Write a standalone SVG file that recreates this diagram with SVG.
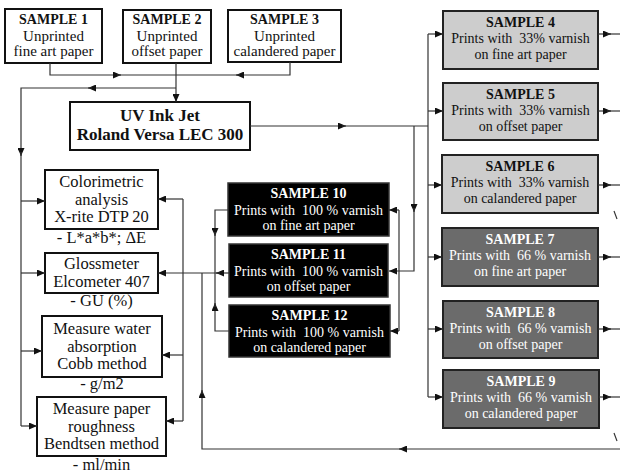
<svg xmlns="http://www.w3.org/2000/svg" width="620" height="475" viewBox="0 0 620 475">
<defs>
<marker id="a" markerUnits="userSpaceOnUse" markerWidth="9" markerHeight="7" refX="8" refY="3.5" orient="auto"><path d="M0,0 L8,3.5 L0,7 z" fill="#111"/></marker>
</defs>
<style>
.box{fill:#fff;stroke:#111;stroke-width:2}
.lg{fill:#cdcdcd;stroke:#222;stroke-width:2}
.dg{fill:#6b6b6b;stroke:#222;stroke-width:2}
.bk{fill:#000;stroke:#333;stroke-width:1.5}
text{font-family:'Liberation Serif',serif;text-anchor:middle;fill:#111}
text.w{fill:#fff}
.t{font-weight:bold;font-size:14px}
.s{font-size:15px}
.p{font-size:14px}
.u{font-weight:bold;font-size:17px}
.m{font-size:16.5px}
.c path{fill:none;stroke:#333;stroke-width:1.2}
.c path.e{marker-end:url(#a)}
</style>
<g id="sample1"><rect class="box" x="5" y="9" width="97" height="54"/><text class="t" x="53.5" y="24">SAMPLE 1</text><text class="s" x="53.5" y="40.5">Unprinted</text><text class="s" x="53.5" y="56">fine art paper</text></g>
<g id="sample2"><rect class="box" x="123" y="10" width="88" height="53"/><text class="t" x="167" y="24">SAMPLE 2</text><text class="s" x="167" y="40.5">Unprinted</text><text class="s" x="167" y="56">offset paper</text></g>
<g id="sample3"><rect class="box" x="228" y="10" width="113" height="52"/><text class="t" x="284.5" y="24">SAMPLE 3</text><text class="s" x="284.5" y="40.5">Unprinted</text><text class="s" x="284.5" y="56">calandered paper</text></g>
<g id="uv"><rect class="box" x="70" y="102" width="180" height="48"/><text class="u" x="160" y="121">UV Ink Jet</text><text class="u" x="160" y="140">Roland Versa LEC 300</text></g>
<g id="colorimetric"><rect class="box" x="45" y="170" width="113" height="59"/><text class="m" x="101.5" y="187">Colorimetric</text><text class="m" x="101.5" y="204.5">analysis</text><text class="m" x="101.5" y="222">X-rite DTP 20</text><text class="m" x="101.5" y="243">- L*a*b*; ΔE</text></g>
<g id="glossmeter"><rect class="box" x="45" y="253" width="113" height="40"/><text class="m" x="101.5" y="269">Glossmeter</text><text class="m" x="101.5" y="287">Elcometer 407</text><text class="m" x="101.5" y="306">- GU (%)</text></g>
<g id="water"><rect class="box" x="42" y="316" width="120" height="61"/><text class="m" x="102" y="334">Measure water</text><text class="m" x="102" y="351.5">absorption</text><text class="m" x="102" y="369">Cobb method</text><text class="m" x="102" y="389">- g/m2</text></g>
<g id="roughness"><rect class="box" x="37" y="397" width="129" height="59"/><text class="m" x="101.5" y="414">Measure paper</text><text class="m" x="101.5" y="431.5">roughness</text><text class="m" x="101.5" y="449">Bendtsen method</text><text class="m" x="101.5" y="470">- ml/min</text></g>
<g id="sample4"><rect class="lg" x="443" y="11" width="155" height="58"/><text class="t" x="520.5" y="27">SAMPLE 4</text><text class="p" x="520.5" y="43">Prints with&#160; 33% varnish</text><text class="p" x="520.5" y="59">on fine art paper</text></g>
<g id="sample5"><rect class="lg" x="443" y="83" width="155" height="57"/><text class="t" x="520.5" y="99">SAMPLE 5</text><text class="p" x="520.5" y="115">Prints with&#160; 33% varnish</text><text class="p" x="520.5" y="131">on offset paper</text></g>
<g id="sample6"><rect class="lg" x="442" y="155" width="156" height="58"/><text class="t" x="520" y="171">SAMPLE 6</text><text class="p" x="520" y="187">Prints with&#160; 33% varnish</text><text class="p" x="520" y="203">on calandered paper</text></g>
<g id="sample7"><rect class="dg" x="442" y="228" width="156" height="58"/><text class="t w" x="520" y="244">SAMPLE 7</text><text class="p w" x="520" y="260">Prints with&#160; 66 % varnish</text><text class="p w" x="520" y="276">on fine art paper</text></g>
<g id="sample8"><rect class="dg" x="443" y="301" width="155" height="57"/><text class="t w" x="520.5" y="317">SAMPLE 8</text><text class="p w" x="520.5" y="333">Prints with&#160; 66 % varnish</text><text class="p w" x="520.5" y="349">on offset paper</text></g>
<g id="sample9"><rect class="dg" x="443" y="370" width="156" height="58"/><text class="t w" x="521" y="386">SAMPLE 9</text><text class="p w" x="521" y="402">Prints with&#160; 66 % varnish</text><text class="p w" x="521" y="418">on calandered paper</text></g>
<g id="sample10"><rect class="bk" x="228" y="183" width="161" height="53"/><text class="t w" x="308.5" y="198">SAMPLE 10</text><text class="p w" x="308.5" y="215">Prints with&#160; 100 % varnish</text><text class="p w" x="308.5" y="230">on fine art paper</text></g>
<g id="sample11"><rect class="bk" x="229" y="244" width="159" height="53"/><text class="t w" x="308.5" y="259">SAMPLE 11</text><text class="p w" x="308.5" y="276">Prints with&#160; 100 % varnish</text><text class="p w" x="308.5" y="291">on offset paper</text></g>
<g id="sample12"><rect class="bk" x="229" y="305" width="161" height="52"/><text class="t w" x="309.5" y="320">SAMPLE 12</text><text class="p w" x="309.5" y="337">Prints with&#160; 100 % varnish</text><text class="p w" x="309.5" y="352">on calandered paper</text></g>
<g id="connectors" class="c">
<path class="e" d="M50,63 V75 H121"/><path d="M117,75 H176"/>
<path class="e" d="M290,62 V75 H236"/><path d="M240,75 H176"/>
<path class="e" d="M176,63 V102"/>
<path class="e" d="M176,88 H88"/><path class="e" d="M92,88 H21 V156"/><path d="M21,152 V426"/>
<path class="e" d="M21,201 H45"/><path class="e" d="M21,273 H45"/><path class="e" d="M21,351 H42"/><path class="e" d="M21,426 H37"/>
<path class="e" d="M250,126 H346"/><path d="M342,126 H428"/>
<path d="M428,34 V397"/>
<path class="e" d="M428,34 H443"/><path class="e" d="M428,111 H443"/><path class="e" d="M428,185 H442"/><path class="e" d="M428,257 H442"/><path class="e" d="M428,329 H443"/><path class="e" d="M428,397 H443"/>
<path class="e" d="M414,126 V212"/><path class="e" d="M414,208 V271 H389"/>
<path d="M399,210 V331"/><path class="e" d="M399,210 H389"/><path class="e" d="M399,331 H390"/>
<path class="e" d="M228,210 H215 V236"/><path d="M215,232 V273"/>
<path class="e" d="M229,331 H215 V303"/><path d="M215,307 V273"/>
<path class="e" d="M229,273 H216"/><path class="e" d="M220,273 H158"/>
<path d="M183,199 V421"/><path class="e" d="M183,199 H158"/><path class="e" d="M183,355 H162"/><path class="e" d="M183,421 H166"/>
<path class="e" d="M598,34 H611"/><path d="M607,34 H620"/>
<path class="e" d="M598,111 H611"/><path d="M607,111 H620"/>
<path class="e" d="M598,185 H611"/><path d="M607,185 H620"/>
<path class="e" d="M598,257 H611"/><path d="M607,257 H620"/>
<path class="e" d="M598,329 H611"/><path d="M607,329 H620"/>
<path class="e" d="M599,397 H611"/><path d="M607,397 H620"/>
<path class="e" d="M620,449 H399"/><path class="e" d="M403,449 H202 V390"/><path d="M202,394 V273"/>
<path d="M614,211 L617,219"/><path d="M614,433 L617,441"/>
</g>
</svg>
